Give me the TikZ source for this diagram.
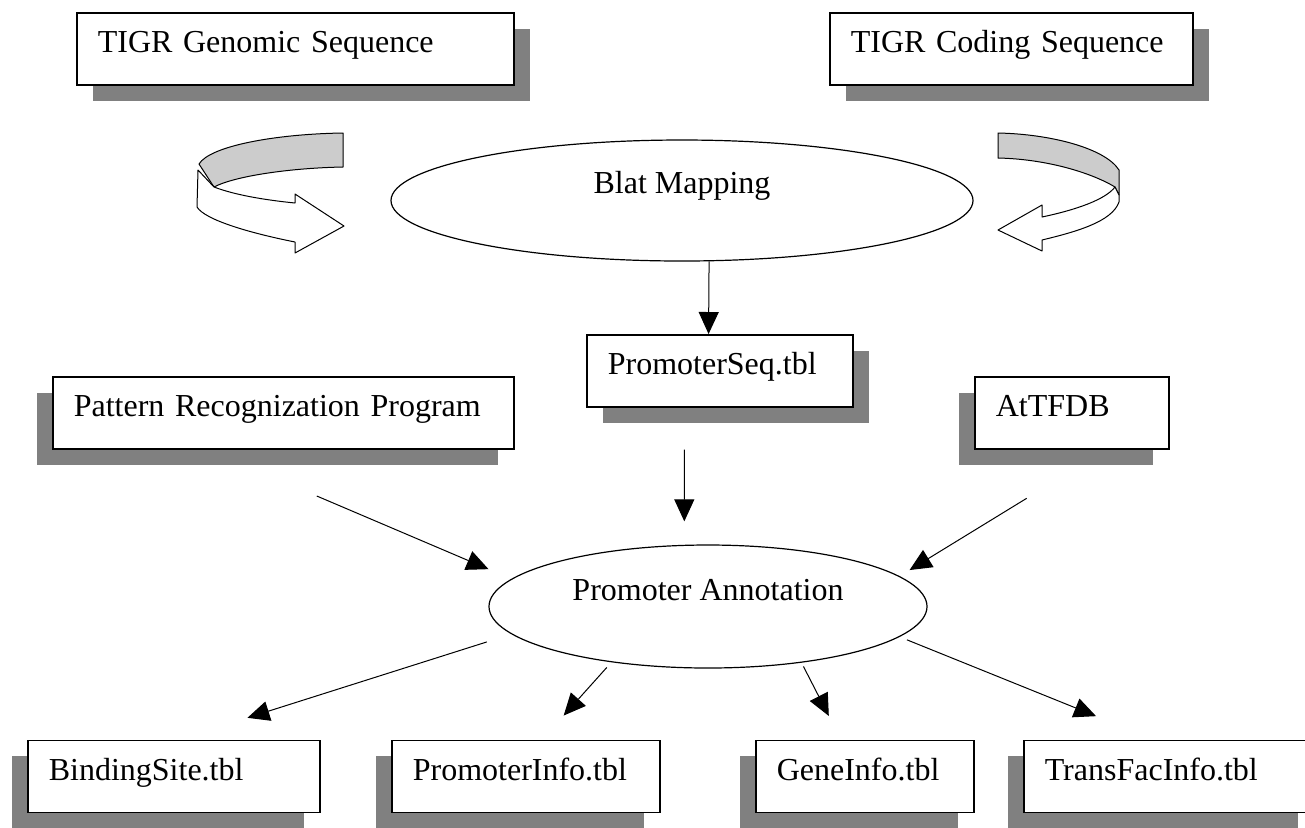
\documentclass[tikz,border=0pt]{standalone}
\usepackage{fontspec}
\setmainfont{Liberation Serif}
\usepackage{tikz}
\usetikzlibrary{positioning}
\usetikzlibrary{arrows.meta}
\usetikzlibrary{shapes.geometric}
\usetikzlibrary{shadows}

\begin{document}
\begin{tikzpicture}[x=0.5pt, y=-0.5pt,
    every node/.style={font=\fontsize{16}{19}\selectfont},
    tbl/.style={draw=black, line width=0.8pt, fill=white, anchor=north west, inner xsep=10.5pt, inner ysep=0pt, text height=20pt, text depth=16pt, align=left},
    shadowright/.style={drop shadow={shadow xshift=8pt, shadow yshift=-8pt, fill=gray, opacity=1}},
    shadowleft/.style={drop shadow={shadow xshift=-8pt, shadow yshift=-8pt, fill=gray, opacity=1}},
    oval/.style={draw=black, line width=0.6pt, shape=ellipse, inner sep=0pt, text height=11pt},
    flow/.style={-{Triangle[length=11pt,width=10pt]}, line width=0.5pt},
    ribbon/.style={draw=black, line width=0.5pt, line join=round}]
    \useasboundingbox (0, 0) rectangle (1305, 827);
    \clip (0, 0) rectangle (1305, 827);

    \node (genomic)[tbl, shadowright, text width=197.5pt] at (76, 12) {TIGR Genomic Sequence};
    \node (coding)[tbl, shadowright, text width=160.5pt] at (829, 12) {TIGR Coding Sequence};
    \node (blat)[oval, minimum width=291pt, minimum height=60.5pt, text depth=18pt] at (682, 200.5) {Blat Mapping};
    \node (promseq)[tbl, shadowright, text width=112pt] at (586, 334) {PromoterSeq.tbl};
    \node (pattern)[tbl, shadowleft, text width=209.5pt] at (52, 376) {Pattern Recognization Program};
    \node (attfdb)[tbl, shadowleft, text width=76pt] at (974, 376) {AtTFDB};
    \node (annot)[oval, minimum width=219pt, minimum height=61.5pt, text depth=17pt] at (708, 606.5) {Promoter Annotation};
    \node (binding)[tbl, shadowleft, text width=125pt] at (27, 739.5) {BindingSite.tbl};
    \node (prominfo)[tbl, shadowleft, text width=113pt] at (391, 739.5) {PromoterInfo.tbl};
    \node (geneinfo)[tbl, shadowleft, text width=88pt] at (755, 739.5) {GeneInfo.tbl};
    \node (transfac)[tbl, shadowleft, text width=124pt] at (1023, 739.5) {TransFacInfo.tbl};

    \path [ribbon, fill=black!20] (199, 164) .. controls (210, 146) and (275, 134) .. (343, 133) -- (343, 167) .. controls (290, 168) and (235, 176) .. (214, 187) -- cycle;
    \path [ribbon, fill=white] (198, 170) -- (214, 187) .. controls (235, 195) and (265, 200) .. (295, 203) -- (295, 194) -- (344, 226) -- (295, 253) -- (295, 242) .. controls (250, 233) and (205, 220) .. (197, 207) -- cycle;
    \path [ribbon, fill=black!20] (998, 133) .. controls (1050, 134) and (1105, 148) .. (1119, 170) -- (1119, 195) -- (1115, 187) .. controls (1090, 172) and (1045, 159) .. (998, 158) -- cycle;
    \path [ribbon, fill=white] (1115, 187) -- (1119, 195) -- (1119, 202) .. controls (1112, 222) and (1075, 232) .. (1042, 240) -- (1042, 251) -- (998, 230) -- (1042, 205) -- (1042, 217) .. controls (1075, 210) and (1105, 200) .. (1115, 187) -- cycle;

    \path [flow] (blat.-66.5) edge (promseq.107);
    \path [flow] (promseq.-134.2) edge[shorten <=21pt, shorten >=11.7pt] (annot.111.3);
    \path [flow] (pattern.206) edge[shorten <=59.2pt, shorten >=12.4pt] (annot.172.74);
    \path [flow] (attfdb.-47.5) edge[shorten <=46.6pt, shorten >=5.85pt] (annot.9.91);
    \path [flow] (annot.188.1) edge[shorten <=12.85pt, shorten >=35.9pt] (binding.82.9);
    \path [flow] (annot.210.5) edge[shorten <=3.45pt, shorten >=16.1pt] (prominfo.66.2);
    \path [flow] (annot.-31.2) edge[shorten <=2.1pt, shorten >=13.25pt] (geneinfo.123.5);
    \path [flow] (annot.-9.98) edge[shorten <=3.95pt, shorten >=31.2pt] (transfac.112.35);
\end{tikzpicture}
\end{document}
